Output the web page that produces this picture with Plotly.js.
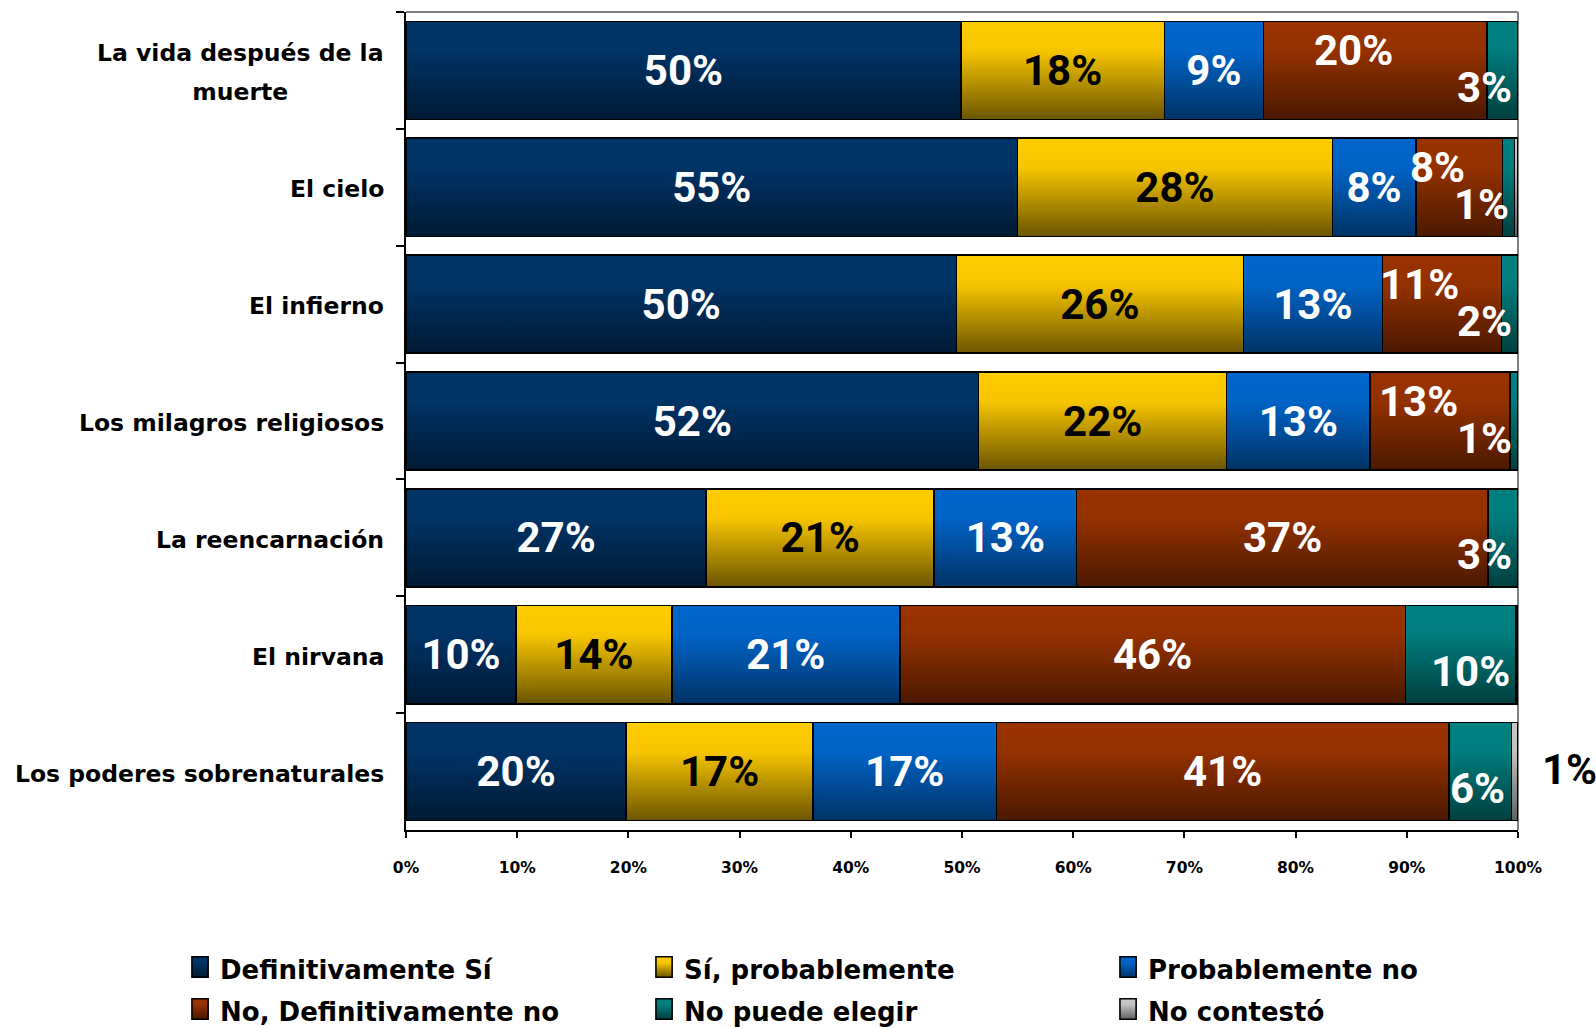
<!DOCTYPE html>
<html>
<head>
<meta charset="utf-8">
<script src="https://cdn.plot.ly/plotly-3.0.1.min.js"></script>
<style>
html,body{margin:0;padding:0;background:#ffffff;}
#chart{width:1596px;height:1028px;}
</style>
</head>
<body>
<div id="chart"></div>
<script>
// ---- data ----
const categories = [
  "La vida después de la muerte",
  "El cielo",
  "El infierno",
  "Los milagros religiosos",
  "La reencarnación",
  "El nirvana",
  "Los poderes sobrenaturales"
];
const categoryLabels = [
  "La vida después de la<br>muerte",
  "El cielo",
  "El infierno",
  "Los milagros religiosos",
  "La reencarnación",
  "El nirvana",
  "Los poderes sobrenaturales"
];
const seriesNames = [
  "Definitivamente Sí",
  "Sí, probablemente",
  "Probablemente no",
  "No, Definitivamente no",
  "No puede elegir",
  "No contestó"
];
const definitivamenteSi   = [49.9, 55.0, 49.5, 51.5, 27.0,  9.9, 19.8];
const siProbablemente     = [18.3, 28.3, 25.8, 22.3, 20.5, 14.0, 16.8];
const probablementeNo     = [ 8.9,  7.5, 12.5, 12.9, 12.8, 20.5, 16.5];
const noDefinitivamenteNo = [20.1,  7.8, 10.7, 12.6, 37.0, 45.5, 40.7];
const noPuedeElegir       = [ 2.8,  1.1,  1.5,  0.7,  2.7,  9.9,  5.6];
const noContesto          = [ 0.0,  0.3,  0.0,  0.0,  0.0,  0.2,  0.6];
const xTickValues = [0,10,20,30,40,50,60,70,80,90,100];
const xTickLabels = ["0%","10%","20%","30%","40%","50%","60%","70%","80%","90%","100%"];

const seriesValues = [definitivamenteSi, siProbablemente, probablementeNo, noDefinitivamenteNo, noPuedeElegir, noContesto];

// ---- styles ----
const gradientStops = [
  ["#003366", "#003366", "#001a33"],
  ["#ffcc00", "#f7c500", "#6b5500"],
  ["#0066cc", "#0063c6", "#003366"],
  ["#993300", "#943100", "#4a1800"],
  ["#008080", "#007c7c", "#003f3f"],
  ["#c8c8c8", "#c0c0c0", "#606060"]
];
const solidColors = ["#002850", "#c9a100", "#004c99", "#702500", "#006060", "#a0a0a0"];
const labelColors = ["#ffffff", "#000000", "#ffffff", "#ffffff", "#ffffff", "#000000"];

const labelFont = "Roboto, 'Liberation Sans', sans-serif";
const textFont = "'DejaVu Sans', Verdana, sans-serif";
const pct = v => Math.round(v) >= 1 ? Math.round(v) + "%" : "";
const X_MAX = 100;
const inRange = x => Math.min(x, X_MAX - 0.01);

// series whose labels are drawn as annotations (offset like the original)
const annotatedSeries = [3, 4, 5];

const traces = seriesValues.map((vals, i) => ({
  type: "bar",
  orientation: "h",
  name: '<span style="font-size:26px">' + seriesNames[i] + '</span>',
  y: categories,
  x: vals,
  text: vals.map(pct),
  textposition: annotatedSeries.includes(i) ? "none" : "inside",
  insidetextanchor: "middle",
  textangle: 0,
  constraintext: "none",
  cliponaxis: false,
  textfont: {family: labelFont, size: 42, weight: "bold", color: labelColors[i]},
  marker: {color: solidColors[i], line: {color: "#000000", width: 1.6}},
  hoverinfo: "skip"
}));

// cumulative starts of each segment
const starts = seriesValues.map((vals, i) =>
  vals.map((v, r) => seriesValues.slice(0, i).reduce((s, a) => s + a[r], 0)));

const labelFontFor = i => ({family: labelFont, size: 42, weight: "bold", color: labelColors[i]});
const labelAnnotations = [];
// "No, Definitivamente no": centred, raised when the segment is narrow
noDefinitivamenteNo.forEach((v, r) => {
  const narrow = v < 25;
  labelAnnotations.push({
    xref: "x", yref: "y", x: inRange(starts[3][r] + v / 2), y: categories[r],
    xanchor: "center", yanchor: "middle",
    xshift: narrow ? -22 : 0, yshift: narrow ? 20 : 0,
    showarrow: false, text: pct(v), font: labelFontFor(3)
  });
});
// "No puede elegir": right aligned at the segment end, lowered
noPuedeElegir.forEach((v, r) => {
  labelAnnotations.push({
    xref: "x", yref: "y", x: inRange(starts[4][r] + v), y: categories[r],
    xanchor: "right", yanchor: "middle",
    xshift: -4, yshift: -17,
    showarrow: false, text: pct(v), font: labelFontFor(4)
  });
});
// "No contestó": outside the bar end
noContesto.forEach((v, r) => {
  if (!pct(v)) return;
  labelAnnotations.push({
    xref: "x", yref: "y", x: inRange(starts[5][r] + v), y: categories[r],
    xanchor: "left", yanchor: "middle",
    xshift: 22, yshift: 2,
    showarrow: false, text: pct(v), font: labelFontFor(5)
  });
});

const categoryAnnotations = categories.map((c, i) => ({
  xref: "paper", x: 0, xanchor: "right", xshift: -20,
  yref: "y", y: c, yanchor: "middle", yshift: -2,
  showarrow: false, align: "center",
  text: categoryLabels[i].split("<br>").map(l => '<span style="font-size:23.5px">' + l + '</span>').join("<br>"),
  font: {family: textFont, size: 30, weight: "bold", color: "#000000"}
}));

const layout = {
  width: 1596, height: 1028,
  margin: {l: 406, r: 78, t: 12, b: 198, pad: 0, autoexpand: false},
  paper_bgcolor: "#ffffff", plot_bgcolor: "#ffffff",
  barmode: "stack",
  bargap: 0.16,
  showlegend: true,
  xaxis: {
    range: [0, X_MAX], fixedrange: true,
    tickvals: xTickValues, ticktext: xTickLabels,
    ticks: "outside", ticklen: 6, tickwidth: 2, tickcolor: "#000000",
    showline: true, linecolor: "#000000", linewidth: 2,
    showgrid: false, zeroline: false,
    ticklabelstandoff: 16,
    tickfont: {family: textFont, size: 15.5, weight: "bold", color: "#000000"}
  },
  yaxis: {
    type: "category", autorange: "reversed", fixedrange: true,
    showticklabels: false,
    ticks: "outside", tickson: "boundaries", ticklen: 8, tickwidth: 2, tickcolor: "#000000",
    showline: true, linecolor: "#000000", linewidth: 2,
    showgrid: false, zeroline: false
  },
  shapes: [
    {type: "line", xref: "paper", yref: "paper", x0: 0, x1: 1, y0: 1, y1: 1, line: {color: "#808080", width: 2}, layer: "below"},
    {type: "line", xref: "paper", yref: "paper", x0: 1, x1: 1, y0: 0, y1: 1, line: {color: "#808080", width: 2}, layer: "below"}
  ],
  annotations: categoryAnnotations.concat(labelAnnotations),
  legend: {
    orientation: "h", traceorder: "normal",
    xref: "paper", yref: "paper",
    x: -0.2032, xanchor: "left", y: -0.1357, yanchor: "top",
    entrywidth: 419, entrywidthmode: "pixels",
    font: {family: textFont, size: 30, weight: "bold", color: "#000000"},
    bgcolor: "rgba(0,0,0,0)", borderwidth: 0,
    itemclick: false, itemdoubleclick: false
  },
  hovermode: false
};

function applyGradients() {
  const gd = document.getElementById("chart");
  const svg = gd.querySelector("svg.main-svg");
  if (!svg) return;
  const NS = "http://www.w3.org/2000/svg";
  let defs = svg.querySelector("defs");
  if (!defs) { defs = document.createElementNS(NS, "defs"); svg.insertBefore(defs, svg.firstChild); }
  gradientStops.forEach((stops, i) => {
    if (defs.querySelector("#bargrad" + i)) return;
    const lg = document.createElementNS(NS, "linearGradient");
    lg.setAttribute("id", "bargrad" + i);
    lg.setAttribute("x1", "0"); lg.setAttribute("y1", "0");
    lg.setAttribute("x2", "0"); lg.setAttribute("y2", "1");
    const offs = [0, 0.3, 1];
    stops.forEach((col, k) => {
      const s = document.createElementNS(NS, "stop");
      s.setAttribute("offset", offs[k]);
      s.setAttribute("stop-color", col);
      lg.appendChild(s);
    });
    defs.appendChild(lg);
  });
  const idxOf = (el, fallback) => {
    const d = el.__data__;
    if (d && d[0] && d[0].trace && typeof d[0].trace.index === "number") return d[0].trace.index;
    return fallback;
  };
  gd.querySelectorAll(".barlayer .trace").forEach((tr, k) => {
    const i = idxOf(tr, k);
    tr.querySelectorAll(".point path").forEach(p => { p.style.fill = "url(#bargrad" + i + ")"; });
  });
  gd.querySelectorAll(".legend .traces").forEach((tr, k) => {
    const i = idxOf(tr, k);
    tr.querySelectorAll(".legendpoints path").forEach(p => {
      p.style.fill = "url(#bargrad" + i + ")";
      if (!p.dataset.scaled) {
        const t = p.getAttribute("transform") || "";
        p.setAttribute("transform", (t + " scale(1.35,1.7)").trim());
        p.style.vectorEffect = "non-scaling-stroke";
        p.dataset.scaled = "1";
      }
    });
  });
}

Plotly.newPlot("chart", traces, layout, {staticPlot: true, displayModeBar: false, responsive: false})
  .then(applyGradients);
</script>
</body>
</html>
